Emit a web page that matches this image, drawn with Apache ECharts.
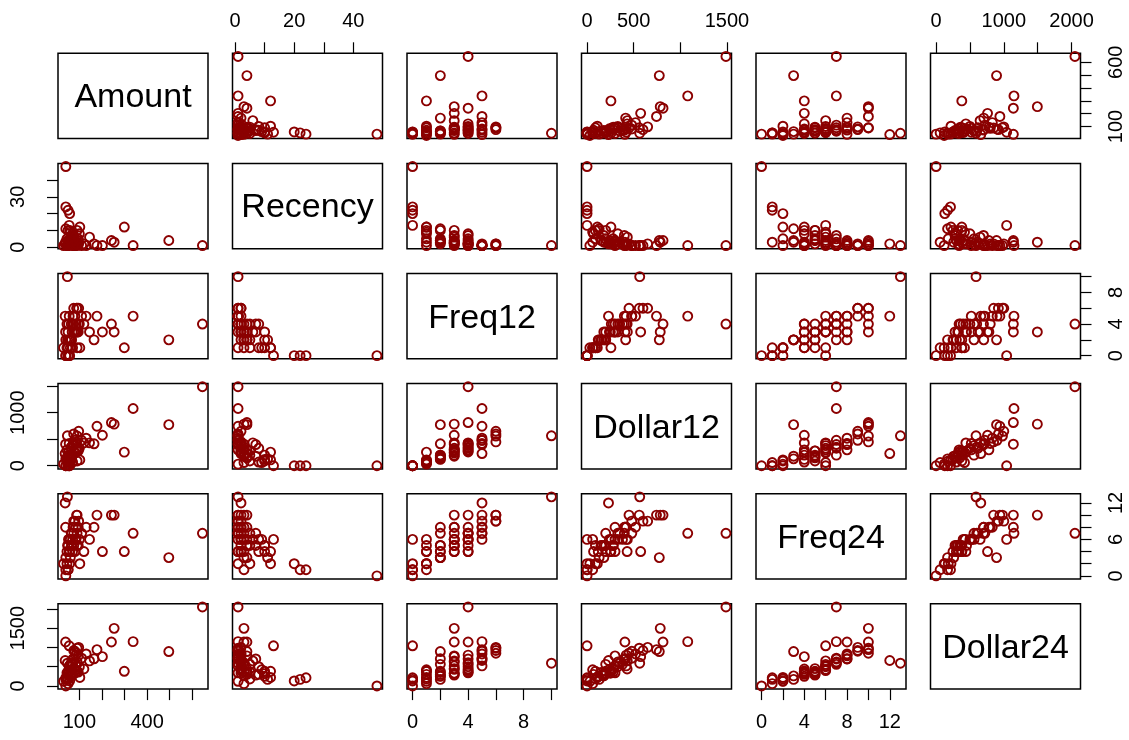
<!DOCTYPE html>
<html><head><meta charset="utf-8">
<script src="https://cdn.jsdelivr.net/npm/echarts@6/dist/echarts.min.js"></script>
<style>html,body{margin:0;padding:0;background:#fff}#c{width:1129px;height:740px}</style>
</head><body><div id="c"></div>
<script>
const varNames = ['Amount','Recency','Freq12','Dollar12','Freq24','Dollar24'];
const amount   = [645,496,338,299,254,242,178,202,40,47,37,40,57,50,55,102,97,39,165,145,120,50,45,60,70,55,80,45,90,65,75,50,60,85,70,100,55,65,90,75,110,95,85,130,80,75,90,58,48,68,52,82,64,72,88,40,95,30];
const recency  = [1,4,1,12,3,4,1,1,48,1,2,24,20,22,13,12,2,3,2,6,2,3,5,3,8,3,2,1,10,4,2,10,9,3,2,8,1,5,2,7,1,4,2,1,1,1,1,10,4,7,2,4,3,1,2,11,5,1];
const freq12   = [4,2,5,1,3,4,5,3,0,10,5,0,0,0,0,1,6,3,2,3,4,1,1,2,1,2,3,4,1,2,3,3,1,3,4,4,5,2,3,4,5,3,4,5,5,6,6,2,2,3,4,3,4,5,6,2,4,1];
const dollar12 = [1490,775,1080,256,785,815,745,575,0,565,230,0,0,0,0,110,650,406,414,432,430,60,90,180,70,200,250,300,90,150,280,200,60,300,380,330,420,200,330,400,480,300,420,520,480,600,560,120,160,180,260,240,350,400,450,130,280,30];
const freq24   = [7,3,7,4,10,10,10,4,0,13,12,1,2,1,6,2,9,8,8,6,4,1,2,3,4,4,4,4,5,5,5,5,6,6,6,6,6,7,7,7,7,8,8,8,9,9,10,4,5,5,6,6,7,8,10,3,5,2];
const dollar24 = [2050,893,1150,380,1495,1141,942,760,0,590,660,213,129,170,1042,220,1000,1141,704,650,440,60,180,260,300,380,330,340,380,350,450,320,420,520,560,500,520,560,620,700,720,780,800,830,900,920,980,250,300,280,400,430,600,700,850,170,360,120];

const tickAmount = [100,200,300,400,500,600];
const tickRecency = [0,10,20,30,40];
const tickFreq12 = [0,2,4,6,8,10];
const tickDollar12 = [0,500,1000,1500];
const tickFreq24 = [0,2,4,6,8,10,12];
const tickDollar24 = [0,500,1000,1500,2000];
const labHAmount = [100,400], labVAmount = [100,600];
const labHRecency = [0,20,40], labVRecency = [0,30];
const labHFreq12 = [0,4,8], labVFreq12 = [0,4,8];
const labHDollar12 = [0,500,1500], labVDollar12 = [0,1000];
const labHFreq24 = [0,4,8,12], labVFreq24 = [0,6,12];
const labHDollar24 = [0,1000,2000], labVDollar24 = [0,1500];

const vars = [amount, recency, freq12, dollar12, freq24, dollar24];
const ticks = [tickAmount, tickRecency, tickFreq12, tickDollar12, tickFreq24, tickDollar24];
const labH = [labHAmount, labHRecency, labHFreq12, labHDollar12, labHFreq24, labHDollar24];
const labV = [labVAmount, labVRecency, labVFreq12, labVDollar12, labVFreq24, labVDollar24];

const ranges = vars.map(v => {
  const mn = Math.min(...v), mx = Math.max(...v), d = (mx - mn) * 0.04;
  return [mn - d, mx + d];
});

const colLeft = [58, 232.5, 407, 581.5, 756, 930.5];
const rowTop = [53.3, 163.4, 273.5, 383.6, 493.7, 603.8];
const W = 150, H = 85.3;
const FONT = 'Liberation Sans, Arial, Helvetica, sans-serif';
const RED = '#8B0000';
const plain = v => String(v);

const grids = [], xAxes = [], yAxes = [], series = [], graphics = [];
let k = 0;
for (let i = 0; i < 6; i++) {
  for (let j = 0; j < 6; j++) {
    grids.push({left: colLeft[j], top: rowTop[i], width: W, height: H, show: true,
      borderColor: '#000', borderWidth: 1.5, backgroundColor: 'transparent', containLabel: false});
    const showTop = (i === 0 && j % 2 === 1);
    const showBottom = (i === 5 && j % 2 === 0);
    const showLeft = (j === 0 && i % 2 === 1);
    const showRight = (j === 5 && i % 2 === 0);
    const xShow = showTop || showBottom;
    const yShow = showLeft || showRight;
    xAxes.push({gridIndex: k, type: 'value', min: ranges[j][0], max: ranges[j][1],
      position: showTop ? 'top' : 'bottom', show: xShow,
      axisLine: {show: false, onZero: false},
      axisTick: {show: xShow, inside: false, length: 11, customValues: ticks[j], lineStyle: {color: '#000', width: 1.2}},
      axisLabel: {show: xShow, customValues: labH[j], formatter: plain, fontSize: 20, fontFamily: FONT, color: '#000', margin: showTop ? 22 : 23},
      splitLine: {show: false}});
    yAxes.push({gridIndex: k, type: 'value', min: ranges[i][0], max: ranges[i][1],
      position: showRight ? 'right' : 'left', show: yShow,
      axisLine: {show: false, onZero: false},
      axisTick: {show: yShow, inside: false, length: 11, customValues: ticks[i], lineStyle: {color: '#000', width: 1.2}},
      axisLabel: {show: yShow, customValues: labV[i], formatter: plain, rotate: 90, fontSize: 20, fontFamily: FONT, color: '#000', margin: showLeft ? 30 : 26},
      splitLine: {show: false}});
    if (i === j) {
      graphics.push({type: 'text', x: colLeft[j] + W / 2, y: rowTop[i] + H / 2 + 2,
        style: {text: varNames[i], fontSize: 34, fontFamily: FONT, fill: '#000',
          align: 'center', verticalAlign: 'middle', textAlign: 'center', textVerticalAlign: 'middle'}});
    } else {
      const xs = vars[j], ys = vars[i];
      series.push({type: 'scatter', xAxisIndex: k, yAxisIndex: k,
        data: xs.map((x, n) => [x, ys[n]]),
        symbol: 'circle', symbolSize: 9, silent: true,
        itemStyle: {color: 'rgba(0,0,0,0)', borderColor: RED, borderWidth: 1.9, opacity: 1}});
    }
    k++;
  }
}

const chart = echarts.init(document.getElementById('c'), null, {renderer: 'canvas'});
chart.setOption({animation: false, backgroundColor: '#fff', grid: grids, xAxis: xAxes, yAxis: yAxes, series: series, graphic: graphics});
</script></body></html>
